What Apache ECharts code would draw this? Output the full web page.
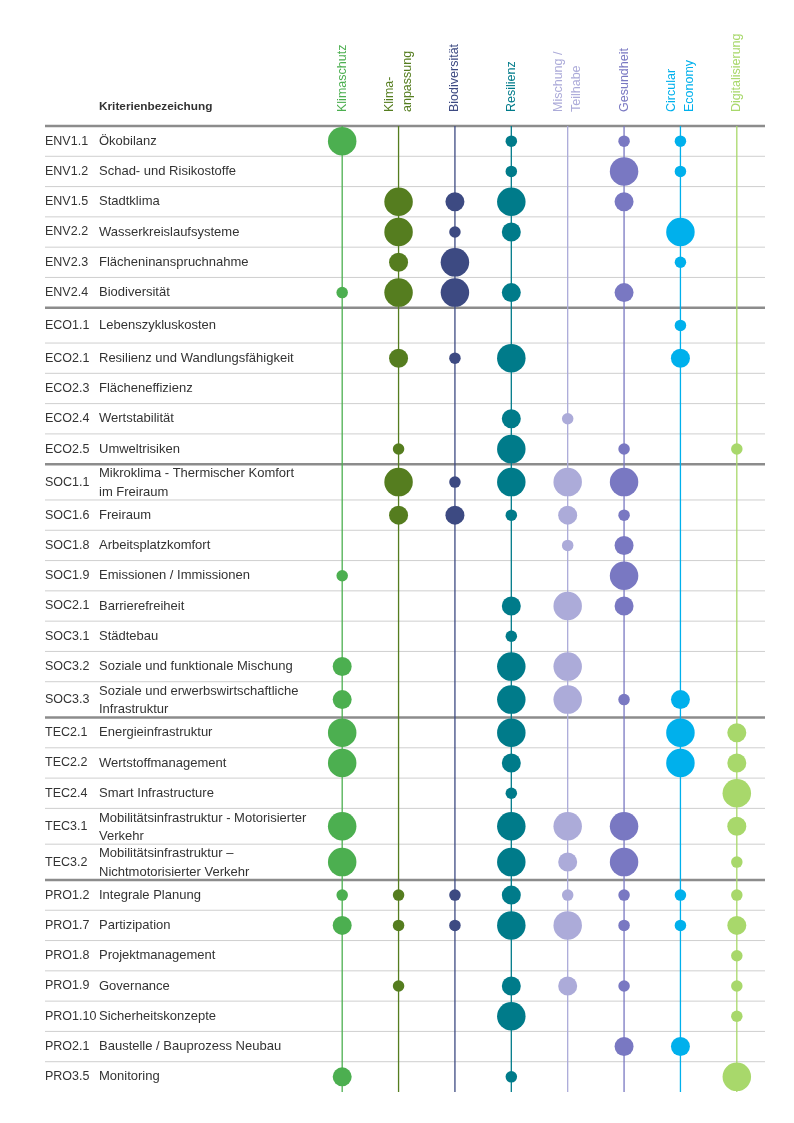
<!DOCTYPE html>
<html><head><meta charset="utf-8">
<script src="https://cdn.jsdelivr.net/npm/echarts@6/dist/echarts.min.js"></script>
<style>html,body{margin:0;padding:0;background:#fff}#c{width:794px;height:1123px}</style>
</head><body><div id="c"></div>
<script>
// ---------- DATA ----------
const headerTitle = 'Kriterienbezeichung';
const topics = ['Klimaschutz', 'Klima-\nanpassung', 'Biodiversität', 'Resilienz', 'Mischung /\nTeilhabe', 'Gesundheit', 'Circular\nEconomy', 'Digitalisierung'];
const codes = ['ENV1.1','ENV1.2','ENV1.5','ENV2.2','ENV2.3','ENV2.4',
  'ECO1.1','ECO2.1','ECO2.3','ECO2.4','ECO2.5',
  'SOC1.1','SOC1.6','SOC1.8','SOC1.9','SOC2.1','SOC3.1','SOC3.2','SOC3.3',
  'TEC2.1','TEC2.2','TEC2.4','TEC3.1','TEC3.2',
  'PRO1.2','PRO1.7','PRO1.8','PRO1.9','PRO1.10','PRO2.1','PRO3.5'];
const criteria = ['Ökobilanz','Schad- und Risikostoffe','Stadtklima','Wasserkreislaufsysteme','Flächeninanspruchnahme','Biodiversität',
  'Lebenszykluskosten','Resilienz und Wandlungsfähigkeit','Flächeneffizienz','Wertstabilität','Umweltrisiken',
  'Mikroklima - Thermischer Komfort\nim Freiraum','Freiraum','Arbeitsplatzkomfort','Emissionen / Immissionen','Barrierefreiheit','Städtebau','Soziale und funktionale Mischung','Soziale und erwerbswirtschaftliche\nInfrastruktur',
  'Energieinfrastruktur','Wertstoffmanagement','Smart Infrastructure','Mobilitätsinfrastruktur - Motorisierter\nVerkehr','Mobilitätsinfrastruktur –\nNichtmotorisierter Verkehr',
  'Integrale Planung','Partizipation','Projektmanagement','Governance','Sicherheitskonzepte','Baustelle / Bauprozess Neubau','Monitoring'];
// relevance level per criterion: 0 = none, 1 = small, 2 = medium, 3 = large
const klimaschutz     = [3,0,0,0,0,1, 0,0,0,0,0, 0,0,0,1,0,0,2,2, 3,3,0,3,3, 1,2,0,0,0,0,2];
const klimaanpassung  = [0,0,3,3,2,3, 0,2,0,0,1, 3,2,0,0,0,0,0,0, 0,0,0,0,0, 1,1,0,1,0,0,0];
const biodiversitaet  = [0,0,2,1,3,3, 0,1,0,0,0, 1,2,0,0,0,0,0,0, 0,0,0,0,0, 1,1,0,0,0,0,0];
const resilienz       = [1,1,3,2,0,2, 0,3,0,2,3, 3,1,0,0,2,1,3,3, 3,2,1,3,3, 2,3,0,2,3,0,1];
const mischung        = [0,0,0,0,0,0, 0,0,0,1,0, 3,2,1,0,3,0,3,3, 0,0,0,3,2, 1,3,0,2,0,0,0];
const gesundheit      = [1,3,2,0,0,2, 0,0,0,0,1, 3,1,2,3,2,0,0,1, 0,0,0,3,3, 1,1,0,1,0,2,0];
const circular        = [1,1,0,3,1,0, 1,2,0,0,0, 0,0,0,0,0,0,0,2, 3,3,0,0,0, 1,1,0,0,0,2,0];
const digitalisierung = [0,0,0,0,0,0, 0,0,0,0,1, 0,0,0,0,0,0,0,0, 2,2,3,2,1, 1,2,1,1,1,0,3];
const columns = [klimaschutz, klimaanpassung, biodiversitaet, resilienz, mischung, gesundheit, circular, digitalisierung];

// ---------- STYLE / LAYOUT ----------
const colors = ['#4caf50', '#557d1f', '#3d4a82', '#007b8a', '#acabd9', '#7978c2', '#00b0ec', '#a8d86b'];
const bubbleSize = {1: 11.5, 2: 19, 3: 28.5};
const FONT = "'Liberation Sans', Arial, sans-serif";
const spans = criteria.map((t, i) => t.indexOf('\n') >= 0 ? 35.8 : (codes[i] === 'ECO1.1' ? 35.3 : 30.3));
const starts = [];
let acc = 0;
spans.forEach(s => { starts.push(acc); acc += s; });
const total = acc;
const centers = spans.map((s, i) => starts[i] + s / 2);
const group = codes.map(c => c.slice(0, 3));

function rowLines(params, api, withText) {
  const i = api.value(2);
  const cs = params.coordSys;
  const x0 = cs.x, x1 = cs.x + cs.width;
  const children = [];
  const yb = api.coord([0, starts[i] + spans[i]])[1];
  if (i === 0) {
    const yt = api.coord([0, 0])[1];
    children.push({type: 'line', shape: {x1: x0, y1: yt, x2: x1, y2: yt}, style: {stroke: '#8c8c8c', lineWidth: 2.5}, z2: 5});
  }
  if (i < codes.length - 1) {
    const thick = group[i + 1] !== group[i];
    children.push({type: 'line', shape: {x1: x0, y1: yb, x2: x1, y2: yb},
      style: thick ? {stroke: '#8c8c8c', lineWidth: 2.5} : {stroke: '#cfcfcf', lineWidth: 1}, z2: thick ? 5 : 1});
  }
  if (withText) {
    const yc = api.coord([0, centers[i]])[1];
    children.push({type: 'text', style: {text: codes[i], x: x0, y: yc, fill: '#333', fontSize: 12.5, fontFamily: FONT, align: 'left', verticalAlign: 'middle'}});
    children.push({type: 'text', style: {text: criteria[i], x: x0 + 54, y: yc + (criteria[i].indexOf('\n') >= 0 ? 1 : 0), fill: '#333', fontSize: 13, fontFamily: FONT, align: 'left', verticalAlign: 'middle', lineHeight: 18.5}});
  }
  return {type: 'group', children};
}

const rowData = codes.map((c, i) => [0, centers[i], i]);

const series = [
  {type: 'custom', xAxisIndex: 0, yAxisIndex: 0, data: rowData, encode: {x: 0, y: 1}, clip: false, silent: true,
    renderItem: (p, api) => rowLines(p, api, true), z: 1},
  {type: 'custom', xAxisIndex: 1, yAxisIndex: 1, data: codes.map((c, i) => [topics[0], centers[i], i]), encode: {x: 0, y: 1}, clip: false, silent: true,
    renderItem: (p, api) => rowLines(p, api, false), z: 1},
  {type: 'custom', xAxisIndex: 1, yAxisIndex: 1, data: topics.map((t, j) => [t, 0, j]), encode: {x: 0, y: 1}, clip: false, silent: true, z: 2,
    renderItem: (p, api) => {
      const j = api.value(2);
      const x = api.coord([j, 0])[0];
      const yt = api.coord([j, 0])[1];
      const yb = api.coord([j, total])[1];
      return {type: 'line', shape: {x1: x, y1: yt, x2: x, y2: yb}, style: {stroke: colors[j], lineWidth: 1.3}};
    }}
];
columns.forEach((col, j) => {
  series.push({
    type: 'scatter', xAxisIndex: 1, yAxisIndex: 1, z: 5, silent: true,
    data: col.map((v, i) => [topics[j], centers[i], v]).filter(d => d[2] > 0),
    symbolSize: d => bubbleSize[d[2]],
    itemStyle: {color: colors[j], opacity: 1}
  });
});

const chart = echarts.init(document.getElementById('c'), null, {renderer: 'canvas'});
chart.setOption({
  animation: false,
  backgroundColor: '#fff',
  grid: [
    {left: 45, width: 269, top: 126, height: 966},
    {left: 314, width: 451, top: 126, height: 966}
  ],
  xAxis: [
    {gridIndex: 0, type: 'value', min: 0, max: 1, show: false},
    {gridIndex: 1, type: 'category', data: topics, position: 'top', boundaryGap: true,
      axisLine: {show: false}, axisTick: {show: false}, splitLine: {show: false},
      axisLabel: {interval: 0, rotate: 90, margin: 14, fontSize: 12.5, fontFamily: FONT, lineHeight: 18,
        color: (v, i) => colors[i]}}
  ],
  yAxis: [
    {gridIndex: 0, type: 'value', min: 0, max: total, inverse: true, show: false},
    {gridIndex: 1, type: 'value', min: 0, max: total, inverse: true, show: false}
  ],
  graphic: [{type: 'text', left: 99, top: 101, style: {text: headerTitle, fill: '#333', fontSize: 11.8, fontWeight: 'bold', fontFamily: FONT}}],
  series
});
</script></body></html>
